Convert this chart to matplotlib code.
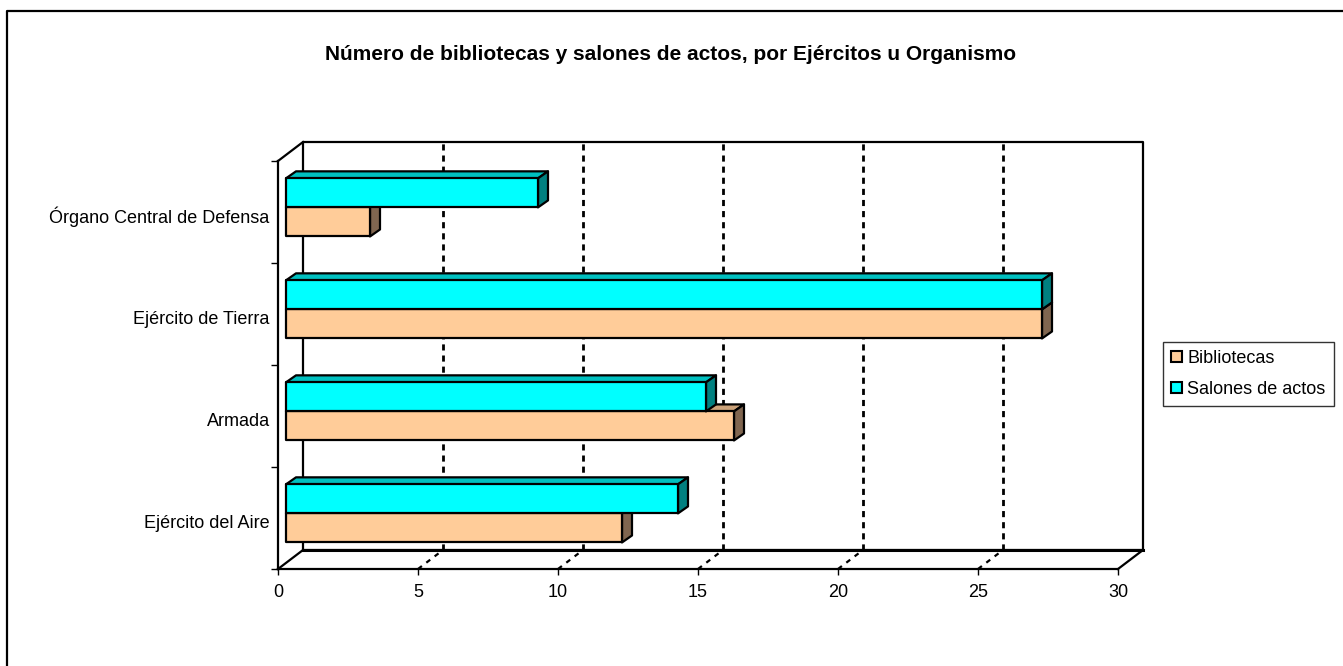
import matplotlib.pyplot as plt
import numpy as np
from matplotlib.patches import Polygon, Patch
from matplotlib.lines import Line2D

plt.rcParams['font.family'] = ['Liberation Sans', 'DejaVu Sans']

title = "Número de bibliotecas y salones de actos, por Ejércitos u Organismo"
categories = ["Ejército del Aire", "Armada", "Ejército de Tierra", "Órgano Central de Defensa"]
series_names = ["Bibliotecas", "Salones de actos"]
bibliotecas = [12, 16, 27, 3]
salones = [14, 15, 27, 9]
xticks = [0, 5, 10, 15, 20, 25, 30]

# colours: front, top, side
colors = {
    "Bibliotecas": ("#FFCC99", "#CCA37A", "#806650"),
    "Salones de actos": ("#00FFFF", "#00C0C0", "#008080"),
}

W, H = 1343, 666
fig = plt.figure(figsize=(W / 100, H / 100), dpi=100)

# pixel geometry of the plot box
px_unit = 28.0     # px per value unit
py_unit = 102.0    # px per category
x0_px, y0_px = 278, 569
right_px, top_px = 1150, 140
ax = fig.add_axes([x0_px / W, (H - y0_px) / H, (right_px - x0_px) / W, (y0_px - top_px) / H])
ax.set_xlim(0, (right_px - x0_px) / px_unit)
ax.set_ylim(0, (y0_px - top_px) / py_unit)

xmax = 30
ncat = len(categories)
wdx, wdy = 25 / px_unit, 19 / py_unit       # wall depth
bx0 = 8 / px_unit                            # bar start
bdx, bdy = 10 / px_unit, 7 / py_unit         # bar depth
bh = 0.285
offs = [0.26, 0.545]

lw_frame = 1.6
k = dict(color="black", lw=lw_frame, clip_on=False, solid_capstyle="projecting")

# back wall and floor
ax.plot([wdx, wdx, xmax + wdx, xmax + wdx], [wdy, ncat + wdy, ncat + wdy, wdy], **k)
ax.plot([0, wdx], [ncat, ncat + wdy], **k)
ax.plot([0, wdx, xmax + wdx, xmax], [0, wdy, wdy, 0], **k)
ax.plot([wdx, xmax + wdx], [wdy, wdy], color="black", lw=2.2, clip_on=False)

# gridlines on wall and floor
for v in xticks[1:-1]:
    ax.plot([v + wdx, v + wdx], [wdy, ncat + wdy], color="black", lw=2.0,
            linestyle=(0, (2.2, 1.8)), zorder=1)
    ax.plot([v, v + wdx], [0, wdy], color="black", lw=1.6,
            linestyle=(0, (2.2, 2.5)), zorder=1)

# 3D bars
def bar3d(x_end, y, name):
    front, top, side = colors[name]
    x1 = bx0
    pts_front = [(x1, y), (x_end, y), (x_end, y + bh), (x1, y + bh)]
    pts_top = [(x1, y + bh), (x_end, y + bh), (x_end + bdx, y + bh + bdy), (x1 + bdx, y + bh + bdy)]
    pts_side = [(x_end, y), (x_end + bdx, y + bdy), (x_end + bdx, y + bh + bdy), (x_end, y + bh)]
    for pts, c in [(pts_top, top), (pts_side, side), (pts_front, front)]:
        ax.add_patch(Polygon(pts, closed=True, facecolor=c, edgecolor="black",
                             lw=1.6, joinstyle="round", zorder=3))

for i in range(ncat):
    bar3d(bx0 + bibliotecas[i], i + offs[0], "Bibliotecas")
    bar3d(bx0 + salones[i], i + offs[1], "Salones de actos")

# axes: ticks and spines
for s in ["top", "right"]:
    ax.spines[s].set_visible(False)
ax.spines["bottom"].set_bounds(0, xmax)
ax.spines["left"].set_bounds(0, ncat)
ax.spines["bottom"].set_linewidth(lw_frame)
ax.spines["left"].set_linewidth(lw_frame)
ax.patch.set_visible(False)

fs = 13
ax.set_xticks(xticks)
ax.set_xticklabels([str(v) for v in xticks], fontsize=fs)
ax.tick_params(axis="x", direction="out", length=4, width=1, pad=6.5)
ax.set_yticks(np.arange(ncat + 1))
ax.set_yticklabels([])
ax.set_yticks(np.arange(ncat) + 0.47, minor=True)
ax.set_yticklabels(categories, minor=True, fontsize=fs)
ax.tick_params(axis="y", which="major", direction="out", length=5, width=1)
ax.tick_params(axis="y", which="minor", length=0, pad=6)

# title
fig.text(671 / W, 1 - 55 / H, title, ha="center", va="center",
         fontsize=15, fontweight="bold")

# legend
handles = [Patch(facecolor=colors[n][0], edgecolor="black", lw=1.5) for n in series_names]
leg = fig.legend(handles, series_names, loc="upper left",
                 bbox_to_anchor=(1163 / W, 1 - 342 / H), fontsize=fs,
                 frameon=True, fancybox=False, handlelength=0.6, handleheight=0.6,
                 handletextpad=0.3, borderpad=0.45, labelspacing=0.75, borderaxespad=0)
leg.get_frame().set_edgecolor("black")
leg.get_frame().set_linewidth(1.0)

# outer border (only left and top visible)
fig.add_artist(Line2D([7 / W, 7 / W, 1.0], [0.0, 1 - 11 / H, 1 - 11 / H],
                      transform=fig.transFigure, color="black", lw=1.6))

fig.savefig("out.png", dpi=100)
